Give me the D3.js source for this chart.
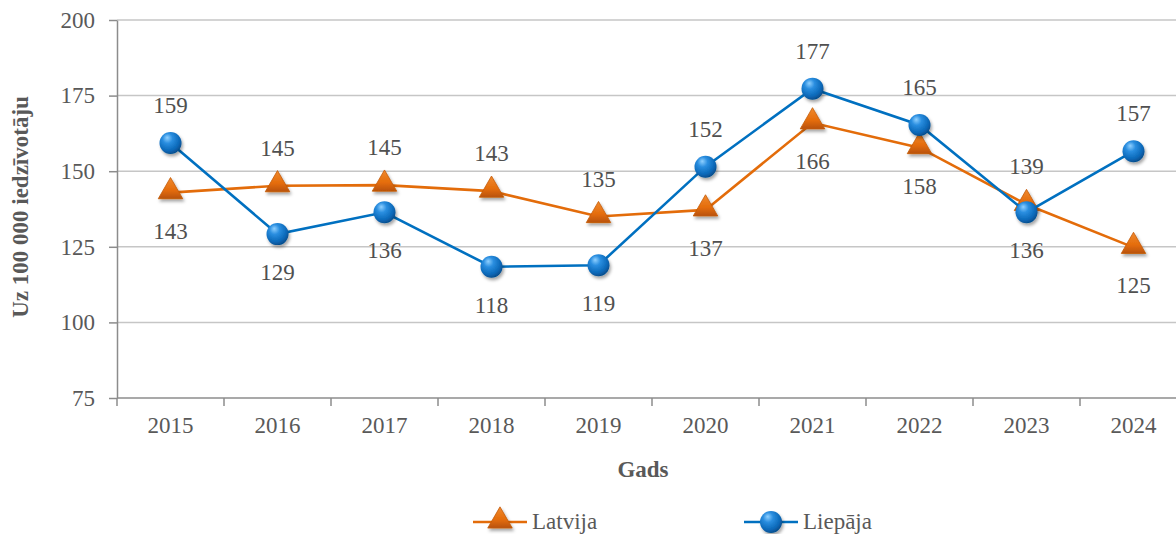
<!DOCTYPE html>
<html>
<head>
<meta charset="utf-8">
<script src="https://cdn.jsdelivr.net/npm/d3@7"></script>
<style>
  body { margin: 0; background: #fff; }
  svg { display: block; font-family: "Liberation Serif", "Times New Roman", serif; }
  .grid line { stroke: #c6c6c6; stroke-width: 1.5; }
  .axis path, .axis line { stroke: #8c8c8c; stroke-width: 1.5; }
  .axis text { fill: #595959; font-size: 23px; font-family: "Liberation Serif", "Times New Roman", serif; }
  .lbl { fill: #505050; font-size: 23px; text-anchor: middle; }
</style>
</head>
<body>
<div id="chart"></div>
<script>
const years = ['2015', '2016', '2017', '2018', '2019', '2020', '2021', '2022', '2023', '2024'];
const latvija = [142.9, 145.2, 145.4, 143.4, 135.0, 137.2, 166.0, 157.8, 139.0, 124.8];
const liepaja = [159.3, 129.2, 136.4, 118.4, 118.9, 151.5, 177.3, 165.3, 136.4, 156.6];
// where each data label sits relative to its point
const latvijaLabelPos = ['below', 'above', 'above', 'above', 'above', 'below', 'below', 'below', 'above', 'below'];
const liepajaLabelPos = ['above', 'below', 'below', 'below', 'below', 'above', 'above', 'above', 'below', 'above'];
const yTicks = [75, 100, 125, 150, 175, 200];

const W = 1176, H = 534;
const svg = d3.select('#chart').append('svg')
  .attr('width', W)
  .attr('height', H);

const x = d3.scaleBand().domain(years).range([117, 1187]);
const y = d3.scaleLinear().domain([75, 200]).range([398, 20]);

const defs = svg.append('defs');

const ball = defs.append('radialGradient')
  .attr('id', 'ball')
  .attr('cx', '40%').attr('cy', '35%').attr('r', '65%')
  .attr('fx', '35%').attr('fy', '25%');
ball.append('stop').attr('offset', '0%').attr('stop-color', '#8fd0ff');
ball.append('stop').attr('offset', '35%').attr('stop-color', '#2a8ee0');
ball.append('stop').attr('offset', '80%').attr('stop-color', '#0a68b8');
ball.append('stop').attr('offset', '100%').attr('stop-color', '#064f8f');

const tri = defs.append('linearGradient')
  .attr('id', 'tri')
  .attr('x1', 0).attr('y1', 0).attr('x2', 0).attr('y2', 1);
tri.append('stop').attr('offset', '0%').attr('stop-color', '#f08a30');
tri.append('stop').attr('offset', '60%').attr('stop-color', '#e46c0a');
tri.append('stop').attr('offset', '100%').attr('stop-color', '#b85208');

const shadow = defs.append('filter')
  .attr('id', 'shadow')
  .attr('x', '-50%').attr('y', '-50%').attr('width', '200%').attr('height', '200%');
shadow.append('feDropShadow')
  .attr('dx', 1.5).attr('dy', 2.5).attr('stdDeviation', 1.8)
  .attr('flood-color', '#000').attr('flood-opacity', 0.35);

// gridlines
svg.append('g')
  .attr('class', 'grid')
  .selectAll('line')
  .data(yTicks.filter(d => d > 75))
  .enter()
  .append('line')
    .attr('x1', 117).attr('x2', W)
    .attr('y1', d => y(d)).attr('y2', d => y(d));

// y axis
svg.append('g')
  .attr('class', 'axis')
  .attr('transform', 'translate(117,0)')
  .call(d3.axisLeft(y).tickValues(yTicks).tickSize(8).tickPadding(14).tickSizeOuter(0))
  .attr('font-family', null)
  .attr('font-size', null);

// x axis, ticks on category boundaries
const xAxisG = svg.append('g')
  .attr('class', 'axis')
  .attr('transform', 'translate(0,' + y(75) + ')');
xAxisG.append('line')
  .attr('x1', 117).attr('x2', W)
  .attr('y1', 0).attr('y2', 0);
xAxisG.selectAll('.tk')
  .data(years)
  .enter()
  .append('line')
    .attr('class', 'tk')
    .attr('x1', d => x(d)).attr('x2', d => x(d))
    .attr('y1', 0).attr('y2', 8);
xAxisG.selectAll('text')
  .data(years)
  .enter()
  .append('text')
    .attr('x', d => x(d) + x.bandwidth() / 2)
    .attr('y', 35)
    .attr('text-anchor', 'middle')
    .text(d => d);

// axis titles
svg.append('text')
  .attr('transform', 'translate(28,207) rotate(-90)')
  .attr('text-anchor', 'middle')
  .attr('fill', '#595959')
  .style('font-size', '23px')
  .style('font-weight', 'bold')
  .text('Uz 100 000 iedzīvotāju');

svg.append('text')
  .attr('x', 643).attr('y', 477)
  .attr('text-anchor', 'middle')
  .attr('fill', '#595959')
  .style('font-size', '23px')
  .style('font-weight', 'bold')
  .text('Gads');

const cx = (d, i) => x(years[i]) + x.bandwidth() / 2;
const line = d3.line().x(cx).y(d => y(d));
const triPath = d3.symbol().type(d3.symbolTriangle).size(260);

function drawSeries(vals, pos, color, kind) {
  const g = svg.append('g');
  g.append('path')
    .datum(vals)
    .attr('d', line)
    .attr('fill', 'none')
    .attr('stroke', color)
    .attr('stroke-width', 2.6);

  if (kind === 'tri') {
    g.selectAll('.m')
      .data(vals)
      .enter()
      .append('path')
        .attr('class', 'm')
        .attr('d', triPath)
        .attr('transform', (d, i) => 'translate(' + cx(d, i) + ',' + (y(d) - 1) + ')')
        .attr('fill', 'url(#tri)')
        .attr('stroke', '#c45a08')
        .attr('stroke-width', 0.8)
        .attr('filter', 'url(#shadow)');
  } else {
    g.selectAll('.m')
      .data(vals)
      .enter()
      .append('circle')
        .attr('class', 'm')
        .attr('cx', cx)
        .attr('cy', d => y(d))
        .attr('r', 11)
        .attr('fill', 'url(#ball)')
        .attr('filter', 'url(#shadow)');
  }

  g.selectAll('.lbl')
    .data(vals)
    .enter()
    .append('text')
      .attr('class', 'lbl')
      .attr('x', cx)
      .attr('y', (d, i) => pos[i] === 'above' ? y(d) - 30 : y(d) + 46)
      .text(d => d3.format('.0f')(d));
}

drawSeries(latvija, latvijaLabelPos, '#e36c0a', 'tri');
drawSeries(liepaja, liepajaLabelPos, '#0070c0', 'ball');

// legend
const legend = [
  { name: 'Latvija', color: '#e36c0a', kind: 'tri', x: 473 },
  { name: 'Liepāja', color: '#0070c0', kind: 'ball', x: 744 }
];
const lg = svg.selectAll('.lg')
  .data(legend)
  .enter()
  .append('g')
    .attr('class', 'lg')
    .attr('transform', d => 'translate(' + d.x + ',522)');
lg.append('line')
  .attr('x1', 0).attr('x2', 54)
  .attr('stroke', d => d.color)
  .attr('stroke-width', 2.6);
lg.filter(d => d.kind === 'tri')
  .append('path')
    .attr('d', triPath)
    .attr('transform', 'translate(27,-1)')
    .attr('fill', 'url(#tri)')
    .attr('stroke', '#c45a08')
    .attr('stroke-width', 0.8)
    .attr('filter', 'url(#shadow)');
lg.filter(d => d.kind === 'ball')
  .append('circle')
    .attr('cx', 27).attr('r', 11)
    .attr('fill', 'url(#ball)')
    .attr('filter', 'url(#shadow)');
lg.append('text')
  .attr('x', 59).attr('y', 7)
  .attr('fill', '#595959')
  .style('font-size', '23px')
  .text(d => d.name);
</script>
</body>
</html>
